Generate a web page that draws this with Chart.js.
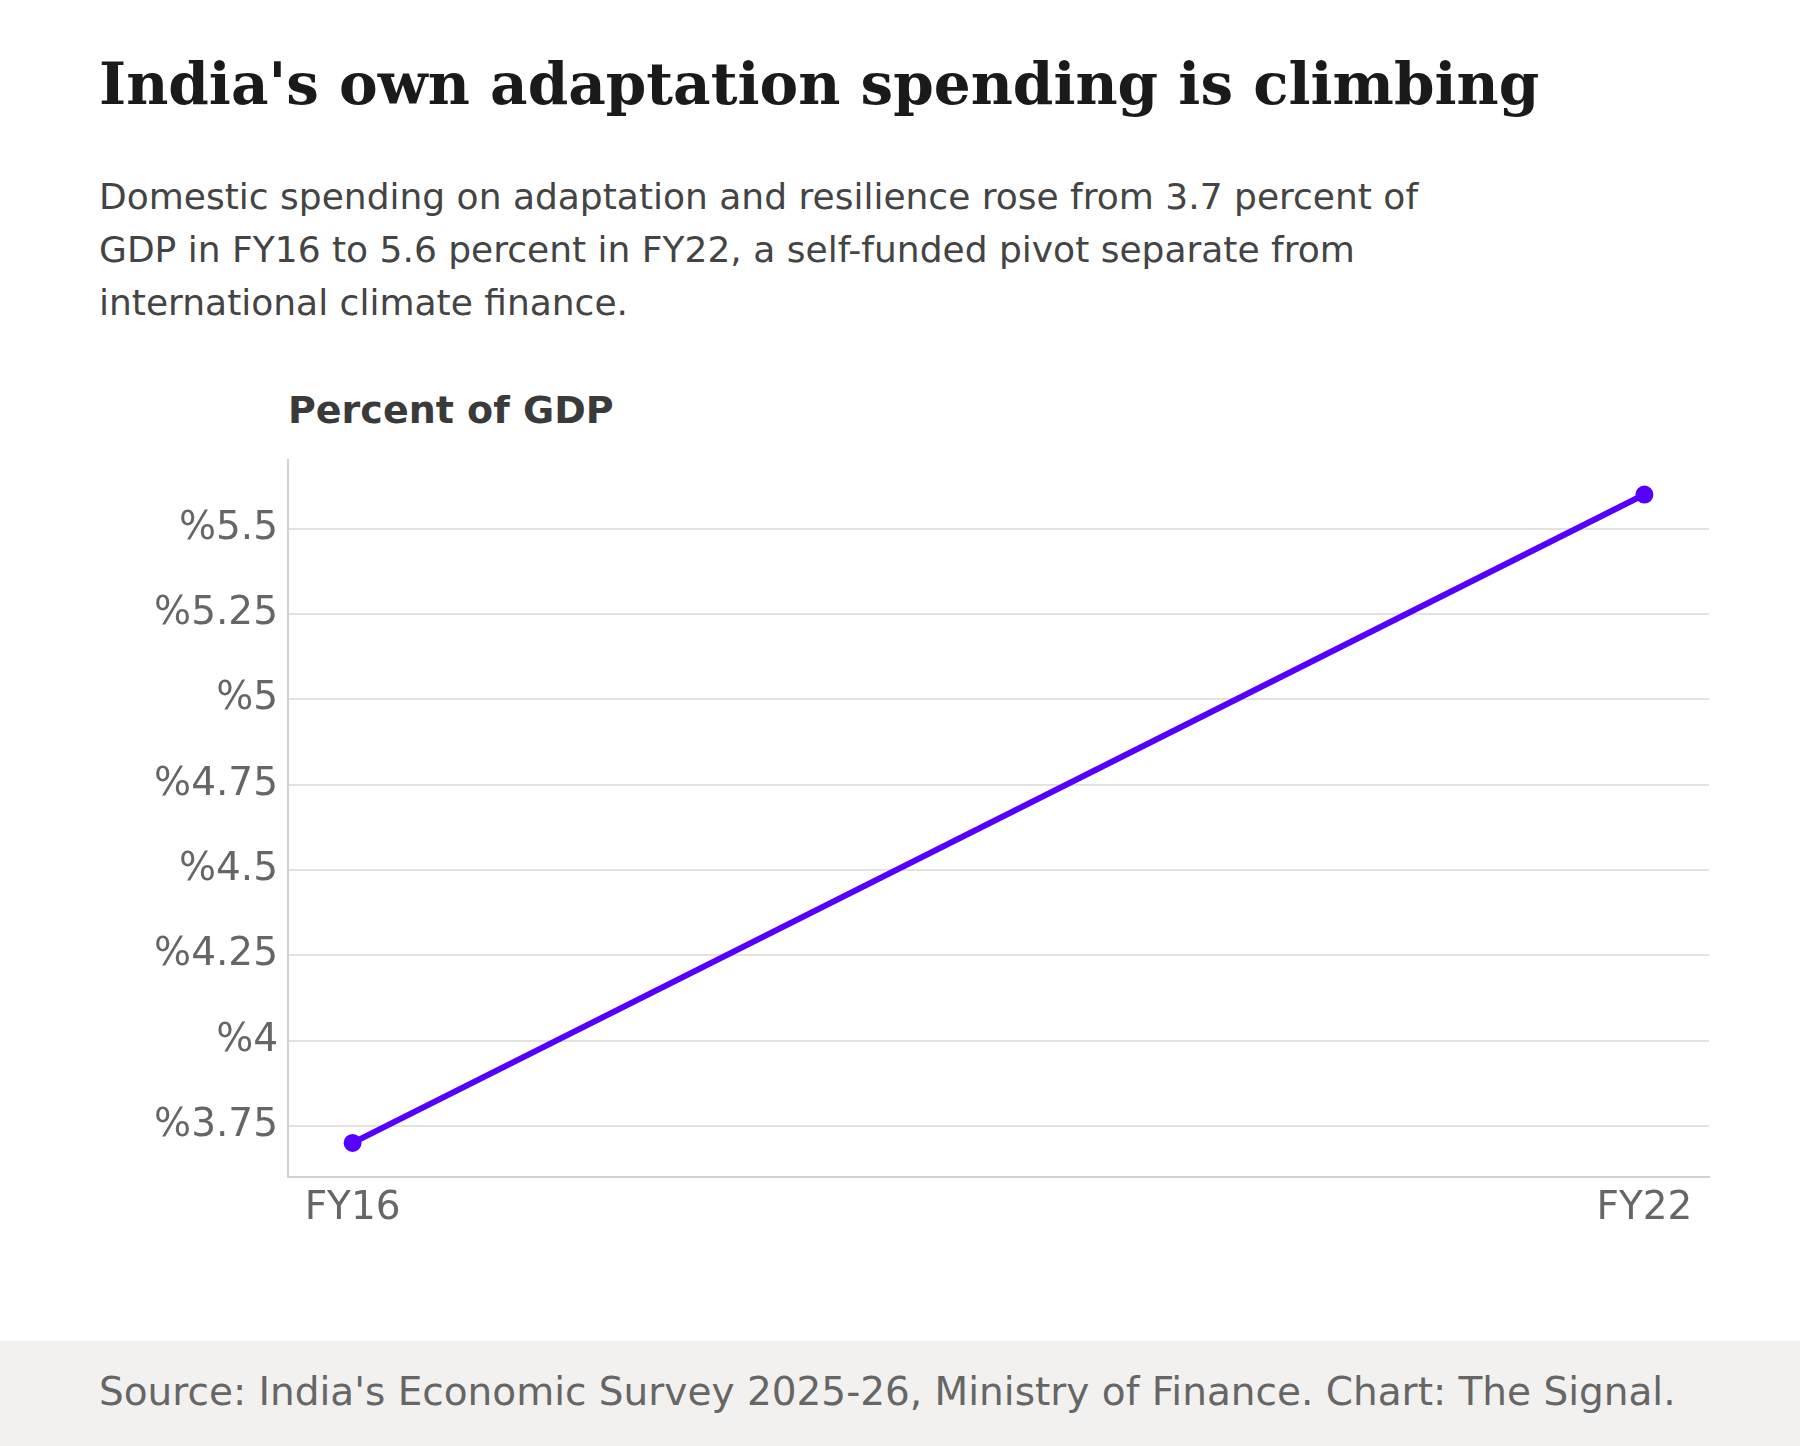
<!DOCTYPE html>
<html><head><meta charset="utf-8">
<script src="https://cdn.jsdelivr.net/npm/chart.js@4"></script>
<style>
body{margin:0;width:1800px;height:1446px;background:#fff;position:relative;overflow:hidden;font-family:"DejaVu Sans",sans-serif}
#title{position:absolute;left:99px;top:50px;font-family:"DejaVu Serif",serif;font-weight:bold;font-size:58px;color:#1a1a1a;margin:0}
#sub{position:absolute;left:99px;top:170px;width:1320px;font-size:36px;line-height:53px;color:#444}
#ytitle{position:absolute;left:288px;top:388px;font-size:38px;font-weight:bold;color:#3a3a3a}
#foot{position:absolute;left:0;top:1341px;width:1800px;height:105px;background:#f2f1ef}
#foot span{position:absolute;left:99px;top:28px;font-size:39px;color:#666}
#wrap{position:absolute;left:0;top:457px;width:1800px;height:843px}
</style></head><body>
<h1 id="title">India's own adaptation spending is climbing</h1>
<div id="sub">Domestic spending on adaptation and resilience rose from 3.7 percent of GDP in FY16 to 5.6 percent in FY22, a self-funded pivot separate from international climate finance.</div>
<div id="ytitle">Percent of GDP</div>
<div id="wrap" style="top:427px;height:873px"><canvas id="c" width="1800" height="873"></canvas></div>
<div id="foot"><span>Source: India's Economic Survey 2025-26, Ministry of Finance. Chart: The Signal.</span></div>
<script>
const years=[2016,2022];
const labels=['FY16','FY22'];
const values=[3.7,5.6];
const yTicks=[3.75,4,4.25,4.5,4.75,5,5.25,5.5];
new Chart(document.getElementById('c'),{
 type:'line',
 data:{datasets:[{data:years.map((y,i)=>({x:y,y:values[i]})),borderColor:'#5500ff',backgroundColor:'#5500ff',borderWidth:6,pointRadius:6,pointHoverRadius:6,clip:false}]},
 options:{responsive:false,animation:false,layout:{padding:{right:91,top:0}},
  plugins:{legend:{display:false},tooltip:{enabled:false}},
  scales:{
   x:{type:'linear',min:2015.7,max:2022.3,
     afterBuildTicks:a=>{a.ticks=years.map(v=>({value:v}));},
     afterFit:a=>{a.height=123;},
     ticks:{callback:v=>labels[years.indexOf(v)],color:'#666',font:{size:39,family:'DejaVu Sans'},padding:8,maxRotation:0},
     grid:{display:false,drawTicks:false},border:{color:'#d0d0d0',width:2}},
   y:{min:3.6,max:5.7,
     afterBuildTicks:a=>{a.ticks=yTicks.map(v=>({value:v}));},
     afterFit:a=>{a.width=288;},
     ticks:{callback:v=>'%'+v,color:'#666',font:{size:39,family:'DejaVu Sans'},padding:10},
     grid:{color:'#e2e2e2',lineWidth:2,drawTicks:false},border:{color:'#d0d0d0',width:2}}
  }}
});
</script>
</body></html>
